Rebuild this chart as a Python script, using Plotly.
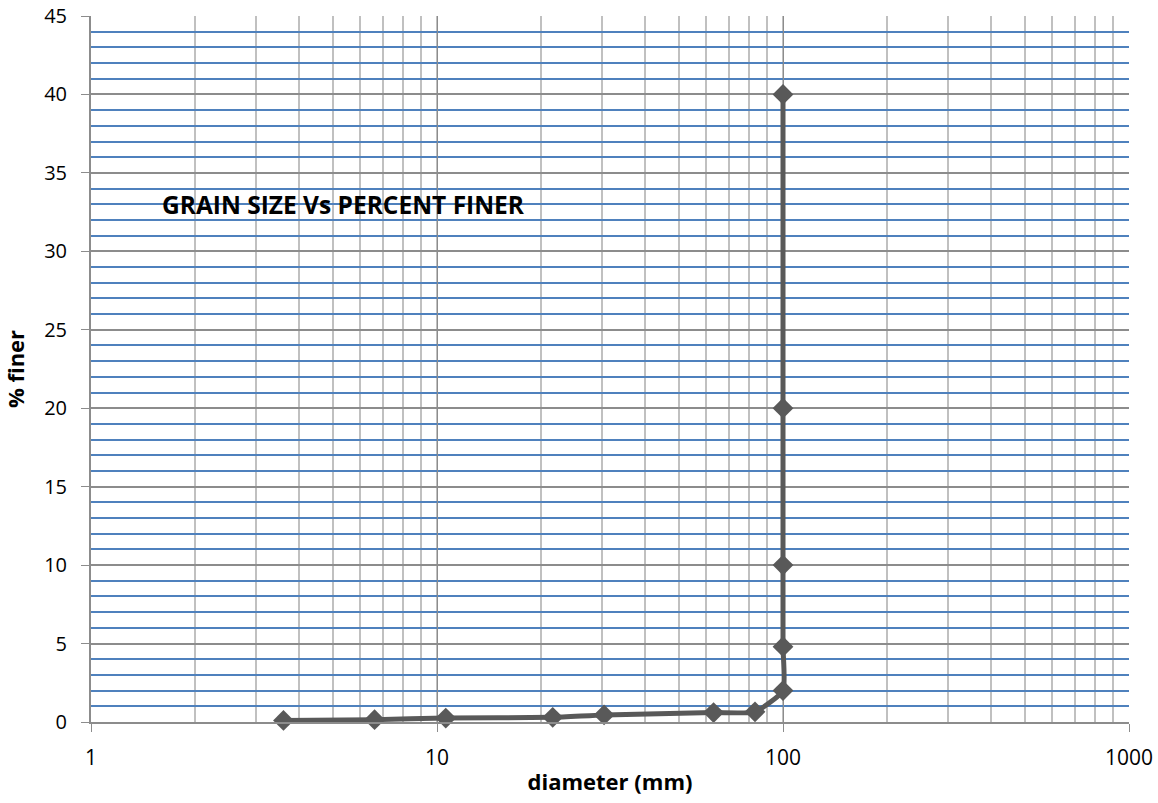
import plotly.graph_objects as go

diameter_mm = [3.6, 6.6, 10.6, 21.6, 30.4, 63.0, 83.0, 100.0, 100.0, 100.0, 100.0, 100.0]
percent_finer = [0.1, 0.15, 0.25, 0.3, 0.45, 0.6, 0.65, 2.0, 4.8, 10.0, 20.0, 40.0]

x_tick_vals = [1, 10, 100, 1000]
x_tick_text = ["1", "10", "100", "1000"]
y_tick_vals = [0, 5, 10, 15, 20, 25, 30, 35, 40, 45]

title_text = "GRAIN SIZE Vs PERCENT FINER"

font_family = "Open Sans, Liberation Sans, sans-serif"

fig = go.Figure()
fig.add_trace(go.Scatter(
    x=diameter_mm, y=percent_finer,
    mode="lines+markers",
    line=dict(color="#595959", width=5, shape="spline", smoothing=0.5),
    marker=dict(symbol="diamond", size=16, color="#595959", line=dict(width=0)),
    showlegend=False, cliponaxis=False,
))

fig.update_xaxes(
    type="log", range=[0, 3], automargin=False,
    tickvals=x_tick_vals, ticktext=x_tick_text,
    showgrid=True, gridcolor="#8C8C8C", gridwidth=1,
    minor=dict(showgrid=True, dtick="D1", gridcolor="#C0C0C0", gridwidth=1.5, ticks=""),
    showline=True, linecolor="#8C8C8C", linewidth=2,
    ticks="outside", ticklen=8, tickcolor="#8C8C8C", tickwidth=1,
    ticklabelstandoff=8, ticklabeloverflow="allow",
    tickfont=dict(size=21, color="#000000", family=font_family),
    title=dict(text="<b>diameter (mm)</b>", font=dict(size=22, color="#000000", family=font_family), standoff=4),
    zeroline=False,
)
fig.update_yaxes(
    range=[0, 45], automargin=False,
    tickvals=y_tick_vals,
    showgrid=True, gridcolor="#8C8C8C", gridwidth=1.5,
    minor=dict(showgrid=True, dtick=1, gridcolor="#4F81BD", gridwidth=1.5, ticks=""),
    showline=True, linecolor="#8C8C8C", linewidth=2,
    ticks="outside", ticklen=8, tickcolor="#8C8C8C", tickwidth=1,
    ticklabelstandoff=10, ticklabeloverflow="allow",
    tickfont=dict(size=20, color="#000000", family=font_family),
    title=dict(text="<b>% finer</b>", font=dict(size=22, color="#000000", family=font_family), standoff=14),
    zeroline=False,
)

fig.add_annotation(
    text="<b>" + title_text + "</b>",
    xref="paper", yref="paper", x=0.066, y=0.733,
    xanchor="left", yanchor="middle", showarrow=False,
    font=dict(size=24.5, color="#000000", family=font_family),
)

fig.update_layout(
    width=1158, height=803,
    margin=dict(l=91, r=29, t=16, b=81),
    paper_bgcolor="white", plot_bgcolor="white",
)

fig.write_html("out.html", config={"displayModeBar": False},
               post_script="document.body.style.margin='0';")
